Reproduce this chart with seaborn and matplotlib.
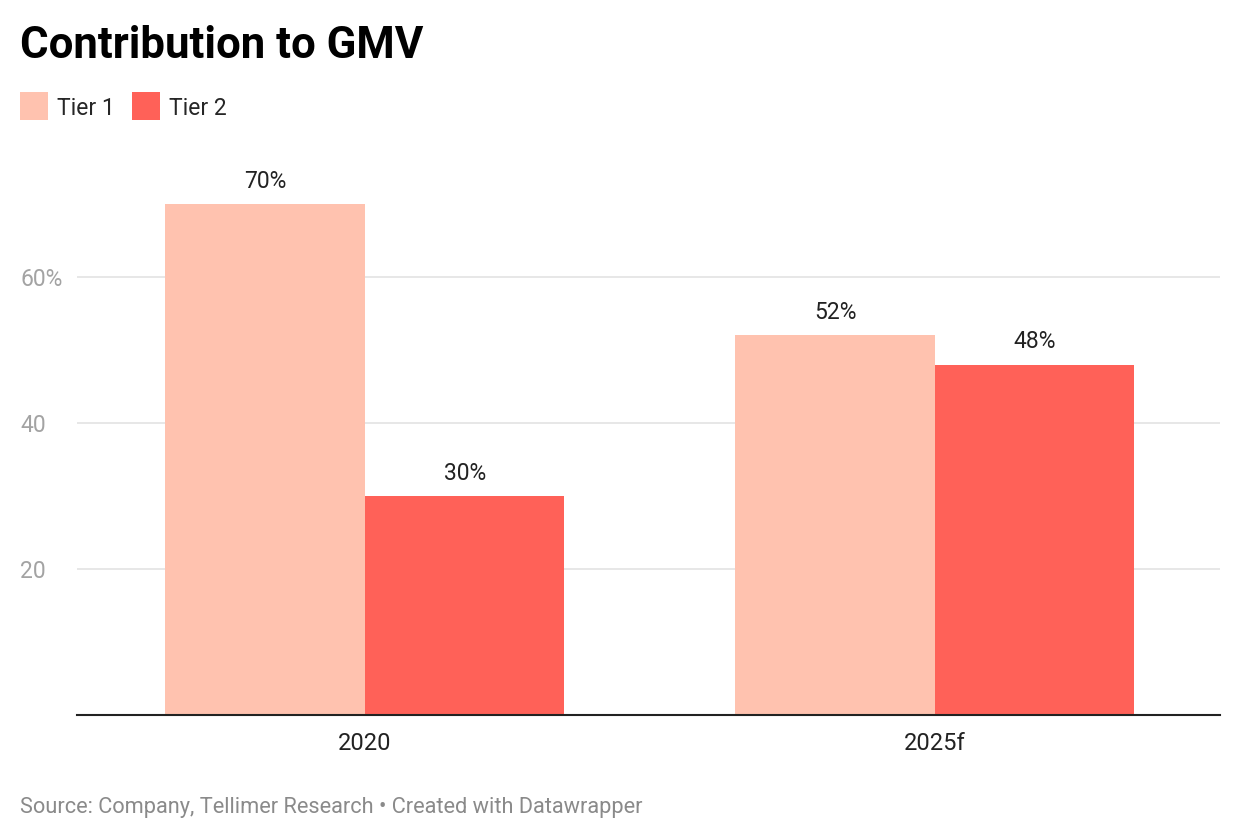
import matplotlib
matplotlib.use("Agg")
import matplotlib.pyplot as plt
import pandas as pd
import seaborn as sns

years = ["2020", "2025f"]
tiers = ["Tier 1", "Tier 2"]
tier1 = [70, 52]
tier2 = [30, 48]
colors = ["#FFC2AF", "#FF6158"]

df = pd.DataFrame({
    "year": years * 2,
    "tier": [tiers[0]] * 2 + [tiers[1]] * 2,
    "value": tier1 + tier2,
})

sns.set_style("white")
plt.rcParams["font.family"] = ["Roboto", "DejaVu Sans"]

fig = plt.figure(figsize=(12.4, 8.4), dpi=100)
ax = fig.add_axes([77 / 1240, 1 - 715 / 840, (1220 - 77) / 1240, (715 - 150) / 840])

sns.barplot(data=df, x="year", y="value", hue="tier", palette=colors,
            width=0.7, saturation=1, linewidth=0, ax=ax, legend=True)

ax.set_xlim(-0.505, 1.5)
ax.set_ylim(0, 565 / 7.3)
ax.set_yticks([20, 40, 60])
ax.set_yticklabels(["20", "40", "60%"])
ax.grid(axis="y", color="#E3E3E3", linewidth=1.2)
ax.set_axisbelow(True)
for s in ["top", "right", "left"]:
    ax.spines[s].set_visible(False)
ax.spines["bottom"].set_color("#222222")
ax.spines["bottom"].set_linewidth(1.5)
ax.tick_params(axis="y", length=0, labelsize=16.5, labelcolor="#A3A3A3", pad=41)
for t in ax.get_yticklabels():
    t.set_horizontalalignment("left")
ax.tick_params(axis="x", length=0, labelsize=17, labelcolor="#222222", pad=12)
ax.set_xlabel("")
ax.set_ylabel("")

for c in ax.containers:
    ax.bar_label(c, labels=[f"{v:.0f}%" for v in c.datavalues],
                 padding=8, fontsize=16.5, color="#222222")

sns.move_legend(ax, "upper left", bbox_to_anchor=(20 / 1240, 1 - 95 / 840),
                bbox_transform=fig.transFigure, ncol=2, frameon=False,
                title=None, fontsize=16.5, handlelength=1.22, handleheight=1.22,
                handletextpad=0.4, columnspacing=0.75, borderpad=0, borderaxespad=0)
for h in ax.get_legend().legend_handles:
    h.set_height(20)
    h.set_y(-4)

fig.text(20 / 1240, 1 - 46 / 840, "Contribution to GMV", fontsize=31.5,
         fontweight="bold", va="center", ha="left", color="#000000")
fig.text(20 / 1240, 1 - 807 / 840,
         "Source: Company, Tellimer Research \u2022 Created with Datawrapper",
         fontsize=15.7, va="center", ha="left", color="#8A8A8A")

fig.savefig("out.png", dpi=100)
